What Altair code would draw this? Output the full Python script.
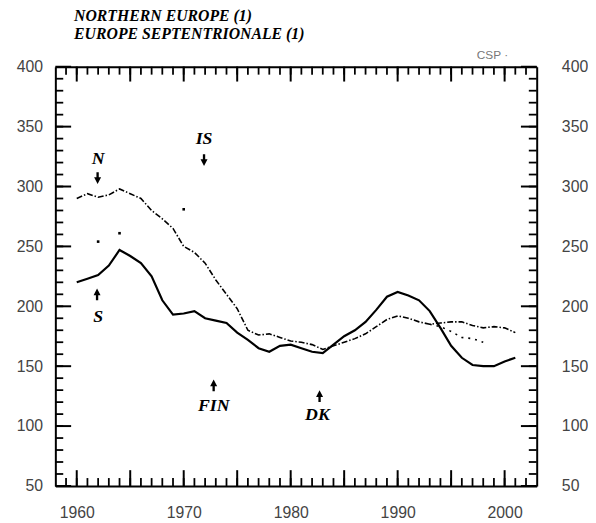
import altair as alt
import pandas as pd

# ---------------- data ----------------
YEARS = list(range(1960, 2002))
S_VALUES = [220, 223, 226, 234, 247, 242, 236, 225, 205, 193,
            194, 196, 190, 188, 186, 178, 172, 165, 162, 167,
            168, 165, 162, 161, 168, 175, 180, 187, 197, 208,
            212, 209, 205, 196, 182, 167, 157, 151, 150, 150,
            154, 157]
N_VALUES = [290, 294, 291, 293, 298, 294, 290, 280, 273, 265,
            250, 245, 236, 222, 210, 198, 180, 176, 177, 174,
            171, 170, 168, 164, 167, 170, 173, 177, 183, 189,
            192, 190, 187, 185, 186, 187, 187, 184, 182, 183,
            182, 178]
LATE_YEARS = [1993, 1994, 1995, 1996, 1997, 1998]
LATE_VALUES = [185, 183, 179, 174, 173, 170]
IS_YEARS = [1962, 1964, 1970]
IS_VALUES = [254, 261, 281]

LABEL_TEXT = ["N", "S", "IS", "FIN", "DK"]
LABEL_YEAR = [1962.0, 1962.0, 1971.9, 1972.8, 1982.5]
LABEL_VALUE = [323, 191, 340, 117, 109]
ARROW_YEAR = [1961.95, 1961.9, 1971.9, 1972.8, 1982.7]
ARROW_VALUE = [307, 210, 322, 134, 125]
ARROW_DIR = ["down", "up", "down", "up", "up"]

NOTE_TEXT = ["CSP  \u00b7"]
NOTE_YEAR = [1997.4]
NOTE_VALUE = [410]

TITLE_LINES = ["NORTHERN EUROPE (1)", "EUROPE SEPTENTRIONALE (1)"]

X_DOMAIN = [1958, 2003]
Y_DOMAIN = [50, 400]
X_LABELS = [1960, 1970, 1980, 1990, 2000]
X_MAJOR = [1960, 1965, 1970, 1975, 1980, 1985, 1990, 1995, 2000]
X_MINOR = list(range(1959, 2003))
Y_MAJOR = [50, 100, 150, 200, 250, 300, 350, 400]
Y_MINOR = list(range(60, 400, 10))

# ---------------- tables ----------------
df_s = pd.DataFrame({"year": YEARS, "value": S_VALUES})
df_n = pd.DataFrame({"year": YEARS, "value": N_VALUES})
df_late = pd.DataFrame({"year": LATE_YEARS, "value": LATE_VALUES})
df_is = pd.DataFrame({"year": IS_YEARS, "value": IS_VALUES})
df_lab = pd.DataFrame({"text": LABEL_TEXT, "year": LABEL_YEAR, "value": LABEL_VALUE})
df_arrow = pd.DataFrame({"year": ARROW_YEAR, "value": ARROW_VALUE, "dir": ARROW_DIR})
df_note = pd.DataFrame({"text": NOTE_TEXT, "year": NOTE_YEAR, "value": NOTE_VALUE})
df_xmaj = pd.DataFrame({"year": X_MAJOR})
df_xmin = pd.DataFrame({"year": X_MINOR})
df_ymaj = pd.DataFrame({"value": Y_MAJOR})
df_ymin = pd.DataFrame({"value": Y_MINOR})

LBL_FONT = "Liberation Sans"
SERIF = "Liberation Serif"
TICK_COLOR = "black"


def xs():
    return alt.Scale(domain=X_DOMAIN, nice=False, zero=False)


def ys():
    return alt.Scale(domain=Y_DOMAIN, nice=False, zero=False)


def label_axis(orient, values, pad):
    return alt.Axis(orient=orient, values=values, ticks=False, domain=True,
                    domainColor="black", domainWidth=2, grid=False,
                    labelPadding=pad, labelFont=LBL_FONT, labelFontSize=16,
                    labelColor="#444", format="d", labelFlush=False,
                    labelOverlap=False)


def frame_axis(orient):
    return alt.Axis(orient=orient, domain=True, domainColor="black",
                    domainWidth=2, ticks=False, labels=False, grid=False)


def enc(xax=None, yax=None):
    return dict(
        x=alt.X("year:Q", scale=xs(), axis=xax, title=None),
        y=alt.Y("value:Q", scale=ys(), axis=yax, title=None),
    )


line_s = alt.Chart(df_s).mark_line(color="black", strokeWidth=2.2).encode(
    **enc(label_axis("bottom", X_LABELS, 19), label_axis("left", Y_MAJOR, 13)))
line_n = alt.Chart(df_n).mark_line(color="black", strokeWidth=1.6,
                                   strokeDash=[6, 2, 1.5, 2]).encode(**enc())
line_late = alt.Chart(df_late).mark_line(color="black", strokeWidth=1.6,
                                         strokeDash=[2, 5]).encode(**enc())
pts_is = alt.Chart(df_is).mark_square(color="black", size=7,
                                      opacity=1).encode(**enc())
DOWN = "M-0.6,-0.15L0.6,-0.15L0,1Z M-0.2,-1L0.2,-1L0.2,-0.1L-0.2,-0.1Z"
UP = "M-0.6,0.15L0.6,0.15L0,-1Z M-0.2,1L0.2,1L0.2,0.1L-0.2,0.1Z"
arrows_down = alt.Chart(df_arrow).transform_filter(
    alt.datum.dir == "down").mark_point(
    shape=DOWN, size=140, filled=True, color="black", opacity=1).encode(**enc())
arrows_up = alt.Chart(df_arrow).transform_filter(
    alt.datum.dir == "up").mark_point(
    shape=UP, size=140, filled=True, color="black", opacity=1).encode(**enc())
labels = alt.Chart(df_lab).mark_text(
    font=SERIF, fontStyle="italic", fontWeight="bold", fontSize=18,
    color="black", baseline="middle", align="center").encode(
    text="text:N", **enc())
note = alt.Chart(df_note).mark_text(
    font=LBL_FONT, fontSize=12, color="#777", align="left",
    baseline="middle").encode(text="text:N", **enc())

# right-hand labels and top frame line
g_top_right = alt.Chart(df_s).mark_point(opacity=0).encode(
    **enc(frame_axis("top"), label_axis("right", Y_MAJOR, 25)))


# inward tick marks, placed through the scales
def yticks(df, side, length, width):
    edge = X_DOMAIN[0] if side == "left" else X_DOMAIN[1]
    off = dict(x2Offset=length) if side == "left" else dict(xOffset=-length)
    return alt.Chart(df).mark_rule(color=TICK_COLOR, strokeWidth=width, **off).encode(
        x=alt.X(datum=edge, scale=xs(), axis=None),
        x2=alt.X2(datum=edge),
        y=alt.Y("value:Q", scale=ys(), axis=None),
    )


def xticks(df, side, length, width):
    edge = Y_DOMAIN[0] if side == "bottom" else Y_DOMAIN[1]
    off = dict(yOffset=-length) if side == "bottom" else dict(y2Offset=length)
    return alt.Chart(df).mark_rule(color=TICK_COLOR, strokeWidth=width, **off).encode(
        y=alt.Y(datum=edge, scale=ys(), axis=None),
        y2=alt.Y2(datum=edge),
        x=alt.X("year:Q", scale=xs(), axis=None),
    )


ticks = [
    yticks(df_ymaj, "left", 16, 2), yticks(df_ymin, "left", 8, 1.8),
    yticks(df_ymaj, "right", 16, 2), yticks(df_ymin, "right", 8, 1.8),
    xticks(df_xmaj, "bottom", 16, 2), xticks(df_xmin, "bottom", 8, 1.8),
    xticks(df_xmaj, "top", 15, 2), xticks(df_xmin, "top", 8, 1.8),
]

chart = alt.layer(
    line_s, line_n, line_late, pts_is, arrows_down, arrows_up, labels, note,
    g_top_right, *ticks,
).resolve_scale(
    x="independent", y="independent"
).properties(
    width=488,
    height=425,
    padding={"left": 48, "top": 56, "right": 52, "bottom": 34},
    autosize=alt.AutoSizeParams(type="none"),
    title=alt.TitleParams(
        text=TITLE_LINES, anchor="start", frame="group", dx=19, dy=7,
        offset=14, font=SERIF, fontStyle="italic", fontWeight="bold",
        fontSize=16, lineHeight=18, color="black",
    ),
).configure_view(stroke="black", strokeWidth=2).configure(background="white")

chart.save("out.html", embed_options={"renderer": "svg", "actions": False})
